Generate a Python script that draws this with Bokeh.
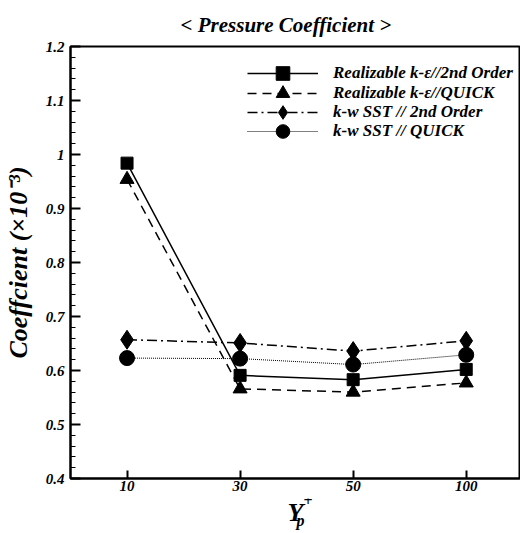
from bokeh.plotting import figure
from bokeh.layouts import column
from bokeh.models import (Range1d, FixedTicker, NumeralTickFormatter, Legend, LegendItem, Title)
from bokeh.core.properties import value
from bokeh.embed import file_html
from bokeh.resources import INLINE

categories = ["10", "30", "50", "100"]
rke_2nd = [0.984, 0.591, 0.583, 0.602]
rke_quick = [0.954, 0.566, 0.560, 0.577]
sst_2nd = [0.657, 0.651, 0.636, 0.655]
sst_quick = [0.623, 0.622, 0.611, 0.629]
y_ticks = [0.4, 0.5, 0.6, 0.7, 0.8, 0.9, 1.0, 1.1, 1.2]
series_names = ["Realizable k-ε//2nd Order", "Realizable k-ε//QUICK",
                "k-w SST // 2nd Order", "k-w SST // QUICK"]

xs = list(range(len(categories)))
FONT = "Liberation Serif"

p = figure(width=520, height=498, output_backend="svg", toolbar_location=None,
           x_range=Range1d(-0.5, 3.48), y_range=Range1d(0.4, 1.2),
           min_border_left=70, min_border_right=0, min_border_top=45, min_border_bottom=20)
p.grid.visible = False
p.background_fill_color = "white"
p.border_fill_color = "white"
p.outline_line_color = "black"
p.outline_line_width = 2

p.title = Title(text="< Pressure Coefficient >", align="left", offset=110, standoff=20,
                text_font=FONT, text_font_size="21px", text_font_style="bold italic",
                text_color="black")

# x axis
p.xaxis.ticker = FixedTicker(ticks=xs)
p.xaxis.major_label_overrides = {i: c for i, c in enumerate(categories)}
p.xaxis.major_tick_in = 8
p.xaxis.major_tick_out = 0
p.xaxis.minor_tick_line_color = None
p.xaxis.axis_line_width = 2
p.xaxis.major_tick_line_width = 2
p.xaxis.major_label_text_font = FONT
p.xaxis.major_label_text_font_style = "bold italic"
p.xaxis.major_label_text_font_size = "15px"
p.xaxis.major_label_text_color = "black"
p.xaxis.major_label_standoff = 2

# y axis
minor = [round(0.4 + 0.02 * i, 2) for i in range(41)]
p.yaxis.ticker = FixedTicker(ticks=y_ticks, minor_ticks=minor)
p.yaxis.formatter = NumeralTickFormatter(format="0.[0]")
p.yaxis.major_tick_in = 10
p.yaxis.major_tick_out = 0
p.yaxis.minor_tick_in = 5
p.yaxis.minor_tick_out = 0
p.yaxis.axis_line_width = 2
p.yaxis.major_tick_line_width = 2
p.yaxis.major_label_text_font = FONT
p.yaxis.major_label_text_font_style = "bold italic"
p.yaxis.major_label_text_font_size = "15px"
p.yaxis.major_label_text_color = "black"
p.yaxis.major_label_standoff = 6
p.yaxis.axis_label = "Coeffcient (×10⁻³)"
p.yaxis.axis_label_text_font = FONT
p.yaxis.axis_label_text_font_style = "bold italic"
p.yaxis.axis_label_text_font_size = "26px"
p.yaxis.axis_label_text_color = "black"
p.yaxis.axis_label_standoff = 10

all_y = [rke_2nd, rke_quick, sst_2nd, sst_quick]
dashes = ["solid", "9 6", "10 4 2 4", "1 1"]
markers = ["square", "triangle", "diamond", "circle"]
sizes = [12, 14, 19, 15]
widths = [1.5, 1.5, 1.5, 1]
legend_y = [388, 368, 349, 330]

for name, ys, dash, marker, size, lw, ly in zip(series_names, all_y, dashes, markers,
                                                 sizes, widths, legend_y):
    r1 = p.line(xs, ys, line_color="black", line_width=lw, line_dash=dash)
    r2 = p.scatter(xs, ys, marker=marker, size=size, fill_color="black", line_color="black")
    lg = Legend(items=[LegendItem(label=name, renderers=[r1, r2])], location=(177, ly),
                glyph_width=71, glyph_height=34, label_height=34, padding=0, margin=0,
                label_standoff=15, border_line_color=None, background_fill_alpha=0,
                label_text_font=FONT, label_text_font_style="bold italic",
                label_text_font_size="17px", label_text_color="black")
    p.add_layout(lg)

# x axis title Y_p^+ in a strip below the plot (frame aligned with the main frame)
p2 = figure(title=None, width=520, frame_height=35, output_backend="svg",
            toolbar_location=None, x_axis_type=None, y_axis_type=None,
            x_range=Range1d(70, 520), y_range=Range1d(0, 35),
            min_border_left=70, min_border_right=0, min_border_top=0, min_border_bottom=0)
p2.grid.visible = False
p2.outline_line_color = None
p2.text(x=[287], y=[21], text=["Y"], text_font=value(FONT), text_font_style="bold italic",
        text_font_size="26px", text_color="black", text_baseline="alphabetic")
p2.text(x=[303], y=[33], text=["+"], text_font=value(FONT), text_font_style="bold",
        text_font_size="16px", text_color="black", text_baseline="alphabetic")
p2.text(x=[296], y=[13], text=["p"], text_font=value(FONT), text_font_style="bold italic",
        text_font_size="16px", text_color="black", text_baseline="alphabetic")

layout = column(p, p2, spacing=0)
open("out.html", "w").write(file_html(layout, INLINE))
